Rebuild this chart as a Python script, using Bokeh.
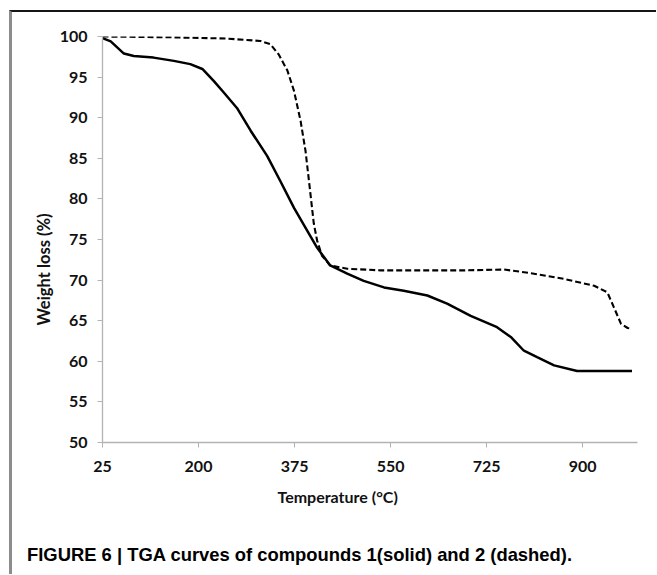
from bokeh.plotting import figure
from bokeh.models import FixedTicker, Range1d, Title, Div
from bokeh.layouts import column
from bokeh.embed import file_html
from bokeh.resources import INLINE

# Compound 1 (solid)
t_solid = [25, 40, 64, 82, 118, 155, 185, 207, 228, 246, 270, 295, 325, 349, 374,
           398, 416, 440, 471, 501, 538, 574, 617, 653, 696, 744, 769, 793, 817,
           848, 890, 990]
w_solid = [99.8, 99.4, 97.9, 97.6, 97.4, 97.0, 96.6, 96.0, 94.5, 93.1, 91.2, 88.4,
           85.3, 82.2, 78.9, 76.1, 74.0, 71.8, 70.8, 69.9, 69.1, 68.7, 68.1, 67.1,
           65.6, 64.2, 63.0, 61.3, 60.5, 59.5, 58.8, 58.8]

# Compound 2 (dashed)
t_dash = [25, 150, 250, 313, 331, 346, 362, 374, 386, 395, 404, 410, 416, 425, 440,
          471, 532, 684, 757, 806, 866, 921, 945, 957, 970, 982, 990]
w_dash = [100.0, 99.9, 99.75, 99.45, 99.05, 97.8, 95.8, 93.3, 89.6, 85.9, 80.6, 77.0,
          74.9, 73.0, 71.8, 71.4, 71.2, 71.2, 71.3, 70.85, 70.15, 69.3, 68.5, 66.65,
          64.6, 64.1, 64.0]

x_ticks = [25, 200, 375, 550, 725, 900]
y_ticks = [50, 55, 60, 65, 70, 75, 80, 85, 90, 95, 100]

x_title = "Temperature (°C)"
y_title = "Weight loss (%)"
caption = "FIGURE 6 | TGA curves of compounds 1(solid) and 2 (dashed)."

FONT = "Lato"

p = figure(width=644, height=525, output_backend="svg", toolbar_location=None,
           x_range=Range1d(25, 1000), y_range=Range1d(50, 100),
           min_border_left=90, min_border_right=19, min_border_top=24,
           min_border_bottom=95)
p.outline_line_color = None
p.grid.visible = False
p.background_fill_color = "white"
p.border_fill_color = "white"

for ax in (p.xaxis[0], p.yaxis[0]):
    ax.axis_line_color = "#b3b3b3"
    ax.axis_line_width = 1.3
    ax.major_tick_line_color = "#b3b3b3"
    ax.major_tick_out = 5
    ax.major_tick_in = 0
    ax.minor_tick_line_color = None
    ax.major_label_text_font = FONT
    ax.major_label_text_font_style = "bold"
    ax.major_label_text_font_size = "16px"
    ax.major_label_text_color = "#111111"

p.xaxis.ticker = FixedTicker(ticks=x_ticks)
p.yaxis.ticker = FixedTicker(ticks=y_ticks)
p.xaxis.major_label_standoff = 13
p.yaxis.major_label_standoff = 10

p.line(t_solid, w_solid, line_color="black", line_width=2.5)
p.line(t_dash, w_dash, line_color="black", line_width=2.1, line_dash="6 3")

p.add_layout(Title(text=y_title, align="left", offset=117, standoff=5,
                   text_font=FONT, text_font_style="bold", text_font_size="16.5px",
                   text_color="#111111"), "left")
p.add_layout(Title(text=x_title, align="left", offset=175, standoff=21,
                   text_font=FONT, text_font_style="bold", text_font_size="16px",
                   text_color="#111111"), "below")

cap = Div(text=caption, width=620, height=30, margin=(7, 0, 0, 15),
          styles={"font-family": "'Liberation Sans', Arial, sans-serif",
                  "font-weight": "bold", "font-size": "18.4px", "color": "black",
                  "line-height": "21px", "white-space": "nowrap"})

layout = column(p, cap, spacing=0,
                styles={"margin-top": "10px", "margin-left": "9px",
                        "border-top": "2px solid #151515",
                        "border-left": "3px solid #8c8c8c",
                        "background-color": "white"})

open("out.html", "w").write(file_html(layout, INLINE))
